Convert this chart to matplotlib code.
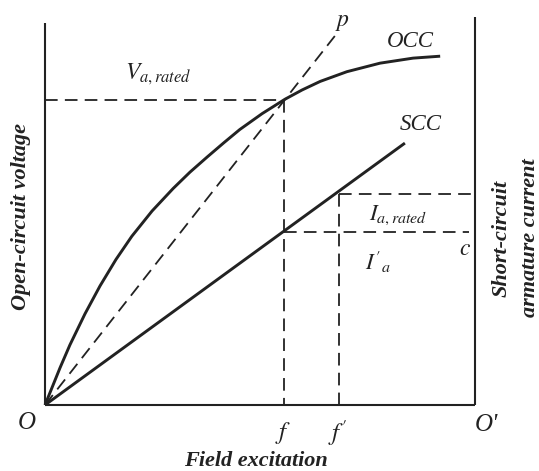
import matplotlib
matplotlib.use("Agg")
import matplotlib.pyplot as plt

plt.rcParams['mathtext.fontset'] = 'stix'
plt.rcParams['font.family'] = ['Liberation Serif', 'DejaVu Serif']

# Open-circuit characteristic (field excitation, voltage), normalised units
occ_x = [0.0, 0.035, 0.058, 0.093, 0.128, 0.165, 0.202, 0.249, 0.298, 0.337,
         0.377, 0.416, 0.453, 0.505, 0.558, 0.598, 0.640, 0.702, 0.779, 0.856,
         0.919]
occ_y = [0.0, 0.096, 0.155, 0.235, 0.307, 0.375, 0.435, 0.500, 0.558, 0.600,
         0.639, 0.676, 0.710, 0.751, 0.788, 0.812, 0.834, 0.859, 0.881, 0.894,
         0.899]
# Short-circuit characteristic (straight line)
scc_x = [0.0, 0.837]
scc_y = [0.0, 0.675]
# Air-gap line O-p
p_x = [0.0, 0.674]
p_y = [0.0, 0.951]

f_val = 0.555        # field for rated voltage
f2_val = 0.683       # field for rated current
v_rated = 0.786
i_rated = 0.544
i_prime = 0.447

fig = plt.figure(figsize=(5.39, 4.71), dpi=100)
W, H = 539, 471
ax = fig.add_axes([45 / W, (H - 405) / H, 430 / W, 388 / H])
ax.set_xlim(0, 1)
ax.set_ylim(0, 1)
ax.axis('off')

k = dict(color='#222222', clip_on=False, solid_capstyle='butt',
         solid_joinstyle='round')
# axes frame
ax.plot([0, 0], [0, 0.985], lw=1.5, **k)
ax.plot([0, 1], [0, 0], lw=1.5, **k)
ax.plot([1, 1], [0, 1.0], lw=1.5, **k)

# curves
ax.plot(occ_x, occ_y, lw=2.1, **k)
ax.plot(scc_x, scc_y, lw=2.1, **k)
dk = dict(color='#222222', lw=1.3, dashes=(7, 4), clip_on=False)
ax.plot(p_x, p_y, **dk)

# construction lines
ax.plot([0, f_val], [v_rated, v_rated], **dk)
ax.plot([f_val, f_val], [v_rated, 0], **dk)
ax.plot([f2_val, 1.0], [i_rated, i_rated], **dk)
ax.plot([f2_val, f2_val], [i_rated, 0], **dk)
ax.plot([f_val, 0.985], [i_prime, i_prime], **dk)

tk = dict(color='#222222', ha='center', va='center', clip_on=False)
ax.text(0.263, 0.851, r'$V_{a,rated}$', fontsize=17, **tk)
ax.text(0.691, 0.985, r'$p$', fontsize=17, **tk)
ax.text(0.849, 0.936, 'OCC', fontsize=16.5, style='italic', **tk)
ax.text(0.874, 0.722, 'SCC', fontsize=16.5, style='italic', **tk)
ax.text(0.821, 0.490, r'$I_{a,rated}$', fontsize=16.5, **tk)
ax.text(0.774, 0.369, r"$I'_{a}$", fontsize=16.5, **tk)
ax.text(0.977, 0.402, r'$c$', fontsize=17, **tk)
ax.text(0.553, -0.072, r'$f$', fontsize=18, **tk)
ax.text(0.681, -0.072, r"$f'$", fontsize=18, **tk)
ax.text(-0.042, -0.046, 'O', fontsize=18, style='italic', **tk)
ax.text(1.026, -0.052, "O'", fontsize=18, style='italic', **tk)

lk = dict(fontsize=16, style='italic', weight='bold', **tk)
ax.text(0.491, -0.145, 'Field excitation', **lk)
ax.text(-0.055, 0.485, 'Open-circuit voltage', rotation=90, **lk)
ax.text(1.063, 0.43, 'Short-circuit', rotation=90, **lk)
ax.text(1.128, 0.43, 'armature current', rotation=90, **lk)

fig.savefig('out.png', dpi=100)
